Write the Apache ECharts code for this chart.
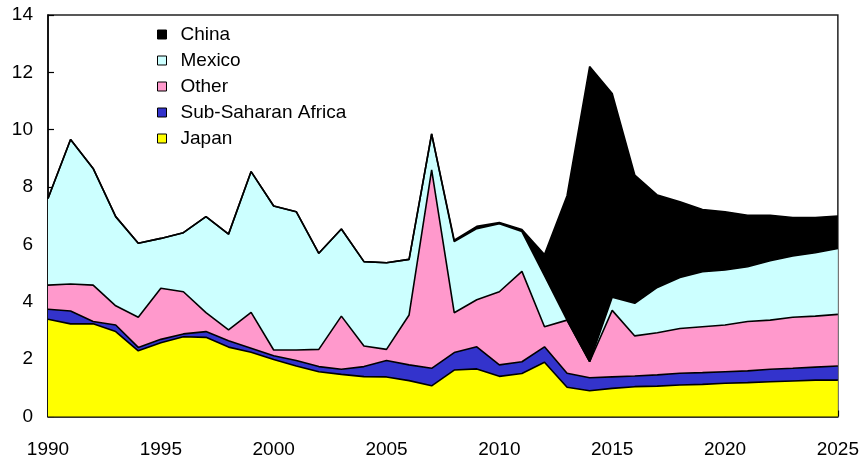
<!DOCTYPE html>
<html>
<head>
<meta charset="utf-8">
<script src="https://cdn.jsdelivr.net/npm/echarts@6/dist/echarts.min.js"></script>
<style>
html,body{margin:0;padding:0;background:#fff;}
#chart{width:862px;height:460px;}
</style>
</head>
<body>
<div id="chart"></div>
<script>
var years = [];
for (var y = 1990; y <= 2025; y++) years.push(String(y));

var japan = [3.39,3.23,3.23,2.96,2.29,2.57,2.78,2.76,2.42,2.24,1.99,1.76,1.56,1.47,1.39,1.38,1.25,1.07,1.62,1.66,1.40,1.50,1.89,1.02,0.90,0.98,1.04,1.06,1.10,1.12,1.16,1.18,1.21,1.24,1.27,1.27];
var subSaharanAfrica = [0.35,0.45,0.08,0.23,0.12,0.12,0.10,0.20,0.22,0.14,0.13,0.19,0.18,0.18,0.35,0.57,0.55,0.61,0.61,0.77,0.40,0.41,0.54,0.49,0.45,0.40,0.37,0.39,0.41,0.41,0.40,0.41,0.44,0.44,0.45,0.49];
var other = [0.84,0.94,1.27,0.67,1.05,1.78,1.47,0.66,0.38,1.25,0.20,0.37,0.60,1.85,0.72,0.39,1.74,6.92,1.39,1.64,2.55,3.15,0.70,1.85,0.56,2.32,1.40,1.47,1.56,1.60,1.63,1.72,1.71,1.78,1.78,1.80];
var mexico = [3.02,5.04,4.07,3.11,2.58,1.74,2.06,3.35,3.34,4.91,5.02,4.82,3.35,3.04,2.94,3.02,1.94,1.25,2.48,2.48,2.37,1.39,1.78,0,0,0.46,1.14,1.58,1.78,1.92,1.92,1.91,2.07,2.14,2.21,2.30];
var china = [0,0,0,0,0,0,0,0,0,0,0,0,0,0,0,0,0,0,0.05,0.08,0.04,0.07,0.74,4.34,10.29,7.10,4.47,3.22,2.64,2.17,2.03,1.80,1.59,1.34,1.23,1.13];

var seriesNames = ['Japan','Sub-Saharan Africa','Other','Mexico','China'];
var seriesData = [japan, subSaharanAfrica, other, mexico, china];
var seriesColors = ['#FFFF00','#3333CC','#FF99CC','#CCFFFF','#000000'];
var legendOrder = ['China','Mexico','Other','Sub-Saharan Africa','Japan'];

var FONT = 'Liberation Sans, Arial, sans-serif';

var series = seriesNames.map(function(name, i){
  return {
    name: name,
    type: 'line',
    stack: 'total',
    data: seriesData[i],
    symbol: 'none',
    smooth: false,
    lineStyle: {color: '#000', width: 1.6},
    itemStyle: {color: seriesColors[i], borderColor: '#000', borderWidth: 1},
    areaStyle: {color: seriesColors[i], opacity: 1},
    emphasis: {disabled: true},
    z: 2
  };
});

var chart = echarts.init(document.getElementById('chart'), null, {renderer: 'canvas'});
chart.setOption({
  animation: false,
  backgroundColor: '#fff',
  textStyle: {fontFamily: FONT},
  grid: {
    left: 48, right: 23, top: 15, bottom: 43.5,
    show: true, borderColor: '#222', borderWidth: 1.5, backgroundColor: 'transparent'
  },
  legend: {
    data: legendOrder,
    orient: 'vertical',
    left: 152,
    top: 20,
    icon: 'rect',
    itemWidth: 9,
    itemHeight: 9,
    itemGap: 7,
    itemStyle: {borderColor: '#000', borderWidth: 1},
    textStyle: {fontFamily: FONT, fontSize: 19, color: '#000', lineHeight: 19, padding: [0,0,0,9]},
    selectedMode: false
  },
  xAxis: {
    type: 'category',
    data: years,
    boundaryGap: false,
    axisLine: {show: true, lineStyle: {color: '#000', width: 1.5}},
    axisTick: {show: true, inside: true, length: 6, interval: 4, lineStyle: {color: '#000', width: 1.2}},
    axisLabel: {interval: 4, fontFamily: FONT, fontSize: 19, color: '#000', margin: 24},
    splitLine: {show: false}
  },
  yAxis: {
    type: 'value',
    min: 0, max: 14, interval: 2,
    axisLine: {show: true, lineStyle: {color: '#000', width: 1.5}},
    axisTick: {show: true, inside: true, length: 6, lineStyle: {color: '#000', width: 1.2}},
    axisLabel: {fontFamily: FONT, fontSize: 19, color: '#000', margin: 15},
    splitLine: {show: false}
  },
  series: series
});
</script>
</body>
</html>
